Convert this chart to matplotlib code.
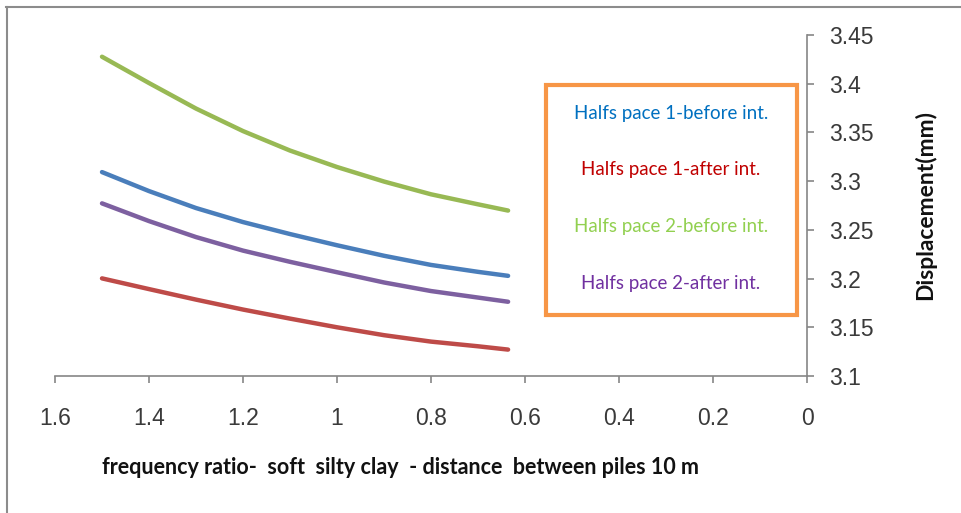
import matplotlib
matplotlib.use("Agg")
import matplotlib.pyplot as plt
from matplotlib.patches import Rectangle
from matplotlib.lines import Line2D

# frequency ratio values (x) and displacement (mm) for each case
freq_ratio = [1.5, 1.4, 1.3, 1.2, 1.1, 1.0, 0.9, 0.8, 0.7, 0.636]
hs1_before = [3.3093, 3.2898, 3.2724, 3.2580, 3.2457, 3.2342, 3.2234, 3.2140, 3.2069, 3.2028]
hs1_after = [3.2002, 3.1892, 3.1784, 3.1682, 3.1589, 3.1500, 3.1419, 3.1353, 3.1305, 3.1271]
hs2_before = [3.4277, 3.4007, 3.3745, 3.3514, 3.3314, 3.3145, 3.2996, 3.2865, 3.2762, 3.2698]
hs2_after = [3.2772, 3.2590, 3.2426, 3.2287, 3.2172, 3.2065, 3.1960, 3.1872, 3.1805, 3.1762]

labels = ["Halfs pace 1-before int.", "Halfs pace 1-after int.",
          "Halfs pace 2-before int.", "Halfs pace 2-after int."]
series = [hs1_before, hs1_after, hs2_before, hs2_after]
line_colors = ["#4A7EBB", "#BE4B48", "#98B954", "#7D60A0"]
text_colors = ["#0070C0", "#C00000", "#92D050", "#7030A0"]

x_ticks = [1.6, 1.4, 1.2, 1, 0.8, 0.6, 0.4, 0.2, 0]
x_tick_labels = ["1.6", "1.4", "1.2", "1", "0.8", "0.6", "0.4", "0.2", "0"]
y_ticks = [3.1, 3.15, 3.2, 3.25, 3.3, 3.35, 3.4, 3.45]
y_tick_labels = ["3.1", "3.15", "3.2", "3.25", "3.3", "3.35", "3.4", "3.45"]

fig = plt.figure(figsize=(9.61, 5.13), dpi=100)
ax = fig.add_axes([55 / 961, 1 - 376 / 513, (807 - 55) / 961, (376 - 35) / 513])

for ys, c in zip(series, line_colors):
    ax.plot(freq_ratio, ys, color=c, lw=3.2, solid_capstyle="round", solid_joinstyle="round")

ax.set_xlim(1.6, 0)
ax.set_ylim(3.1, 3.45)
ax.set_xticks(x_ticks)
ax.set_xticklabels(x_tick_labels)
ax.set_yticks(y_ticks)
ax.set_yticklabels(y_tick_labels)

axis_gray = "#868686"
for side in ["top", "left"]:
    ax.spines[side].set_visible(False)
for side in ["bottom", "right"]:
    ax.spines[side].set_color(axis_gray)
    ax.spines[side].set_linewidth(1.2)
ax.yaxis.tick_right()
ax.tick_params(axis="both", direction="out", length=5, width=1.2, color=axis_gray,
               labelsize=16.5, labelcolor="#3a3a3a")
ax.tick_params(axis="x", pad=17)
ax.tick_params(axis="y", pad=11)
for t in ax.get_xticklabels() + ax.get_yticklabels():
    t.set_family("Liberation Sans")

fig.text(400 / 961, 1 - 468 / 513, "frequency ratio-  soft  silty clay  - distance  between piles 10 m",
         ha="center", va="center", fontsize=15.5, fontweight="bold", family="Lato", color="#111111")
fig.text(925 / 961, 1 - 205 / 513, "Displacement(mm)", rotation=90,
         ha="center", va="center", fontsize=16.5, fontweight="bold", family="Lato", color="#111111")

# legend box with coloured entries
fig.patches.append(Rectangle((546 / 961, 1 - 315 / 513), (797 - 546) / 961, (315 - 85) / 513,
                             transform=fig.transFigure, fill=False, edgecolor="#F79646",
                             linewidth=3))
for i, (lab, c) in enumerate(zip(labels, text_colors)):
    y = 113 + i * 57
    fig.text(671 / 961, 1 - y / 513, lab, ha="center", va="center", fontsize=13.5,
             family="Lato", color=c)

# outer chart frame
fig.add_artist(Line2D([6 / 961, 1], [1 - 7 / 513, 1 - 7 / 513], transform=fig.transFigure,
                      color="#8C8C8C", lw=1.5))
fig.add_artist(Line2D([7 / 961, 7 / 961], [0, 1 - 7 / 513], transform=fig.transFigure,
                      color="#8C8C8C", lw=1.5))

fig.savefig("out.png", dpi=100)
